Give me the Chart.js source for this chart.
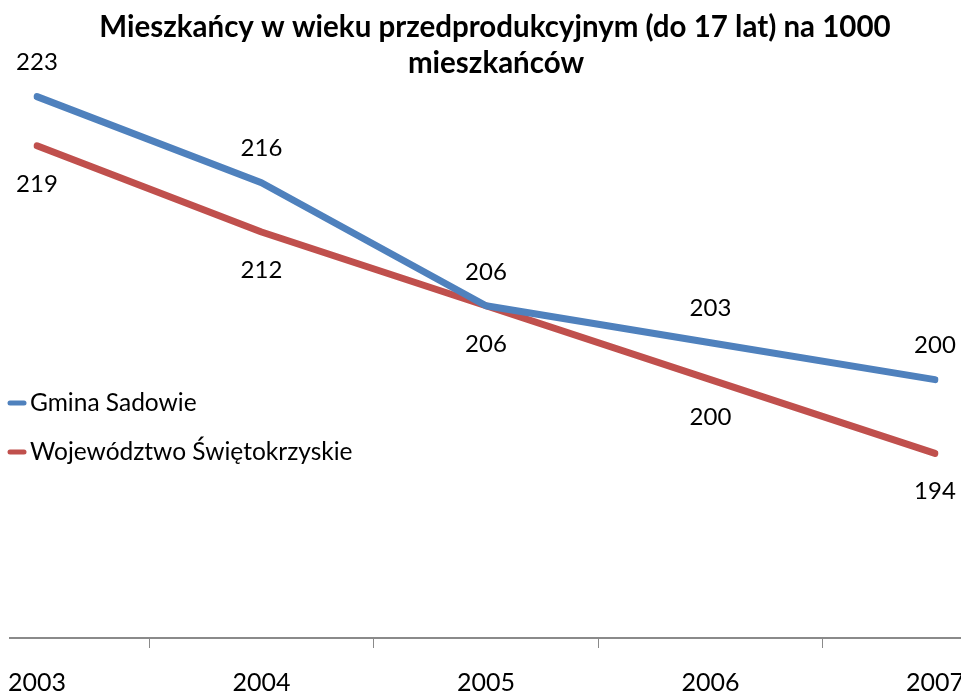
<!DOCTYPE html>
<html>
<head>
<meta charset="utf-8">
<script src="https://cdn.jsdelivr.net/npm/chart.js@4.4.0/dist/chart.umd.min.js"></script>
<style>
  html, body { margin: 0; padding: 0; background: #fff; }
  #wrap { width: 961px; height: 693px; position: relative; }
</style>
</head>
<body>
<div id="wrap"><canvas id="chart" width="961" height="693"></canvas></div>
<script>
// DATA
const years = ["2003", "2004", "2005", "2006", "2007"];
const gminaSadowie = [223, 216, 206, 203, 200];
const swietokrzyskie = [219, 212, 206, 200, 194];
const seriesNames = ["Gmina Sadowie", "Województwo Świętokrzyskie"];
const titleLines = ["Mieszkańcy w wieku przedprodukcyjnym (do 17 lat) na 1000", "mieszkańców"];

const BLUE = "#4F81BD";
const RED = "#C0504D";
const FONT = "Lato, 'Open Sans', sans-serif";

// TITLE, AXIS LINE, LEGEND, LABELS
const decor = {
  id: "decor",
  afterDatasetsDraw(chart) {
    const ctx = chart.ctx;
    const area = chart.chartArea;
    ctx.save();

    // axis line across full width
    ctx.strokeStyle = "#8a8a8a";
    ctx.lineWidth = 2;
    ctx.beginPath();
    ctx.moveTo(9, area.bottom);
    ctx.lineTo(961, area.bottom);
    ctx.stroke();

    // title
    ctx.fillStyle = "#000";
    ctx.font = "bold 29.5px " + FONT;
    ctx.textAlign = "center";
    ctx.textBaseline = "middle";
    ctx.fillText(titleLines[0], 495, 27);
    ctx.fillText(titleLines[1], 496, 63);

    // value labels: first series above, second below
    ctx.font = "24px " + FONT;
    chart.data.datasets.forEach((ds, i) => {
      const meta = chart.getDatasetMeta(i);
      meta.data.forEach((pt, j) => {
        const dy = i === 0 ? -34 : 38;
        ctx.fillText(String(ds.data[j]), pt.x, pt.y + dy);
      });
    });

    // legend
    ctx.textAlign = "left";
    ctx.font = "24.5px " + FONT;
    const legendY = [403, 452];
    chart.data.datasets.forEach((ds, i) => {
      ctx.strokeStyle = ds.borderColor;
      ctx.lineWidth = 5;
      ctx.lineCap = "round";
      ctx.beginPath();
      ctx.moveTo(10, legendY[i]);
      ctx.lineTo(24, legendY[i]);
      ctx.stroke();
      ctx.fillStyle = "#000";
      ctx.fillText(ds.label, 30, legendY[i]);
    });
    ctx.restore();
  }
};

new Chart(document.getElementById("chart"), {
  type: "line",
  data: {
    labels: years,
    datasets: [
      {
        label: seriesNames[0],
        data: gminaSadowie,
        borderColor: BLUE,
        borderWidth: 7,
        borderCapStyle: "round",
        borderJoinStyle: "round",
        pointRadius: 0,
        tension: 0
      },
      {
        label: seriesNames[1],
        data: swietokrzyskie,
        borderColor: RED,
        borderWidth: 7,
        borderCapStyle: "round",
        borderJoinStyle: "round",
        pointRadius: 0,
        tension: 0
      }
    ]
  },
  options: {
    responsive: false,
    animation: false,
    layout: { padding: { left: 37, right: 26, top: 72, bottom: 0 } },
    plugins: {
      legend: { display: false },
      title: { display: false },
      tooltip: { enabled: false }
    },
    scales: {
      x: {
        offset: false,
        afterFit: (s) => {
          s.height = 55;
          s.paddingLeft = 0;
          s.paddingRight = 0;
        },
        border: { display: false },
        grid: {
          offset: true,
          drawOnChartArea: false,
          tickLength: 10,
          color: "#8a8a8a",
          lineWidth: 1
        },
        ticks: {
          color: "#000",
          font: { family: FONT, size: 25 },
          padding: 20,
          maxRotation: 0
        }
      },
      y: {
        display: false,
        min: 179,
        max: 225
      }
    }
  },
  plugins: [decor]
});
</script>
</body>
</html>
